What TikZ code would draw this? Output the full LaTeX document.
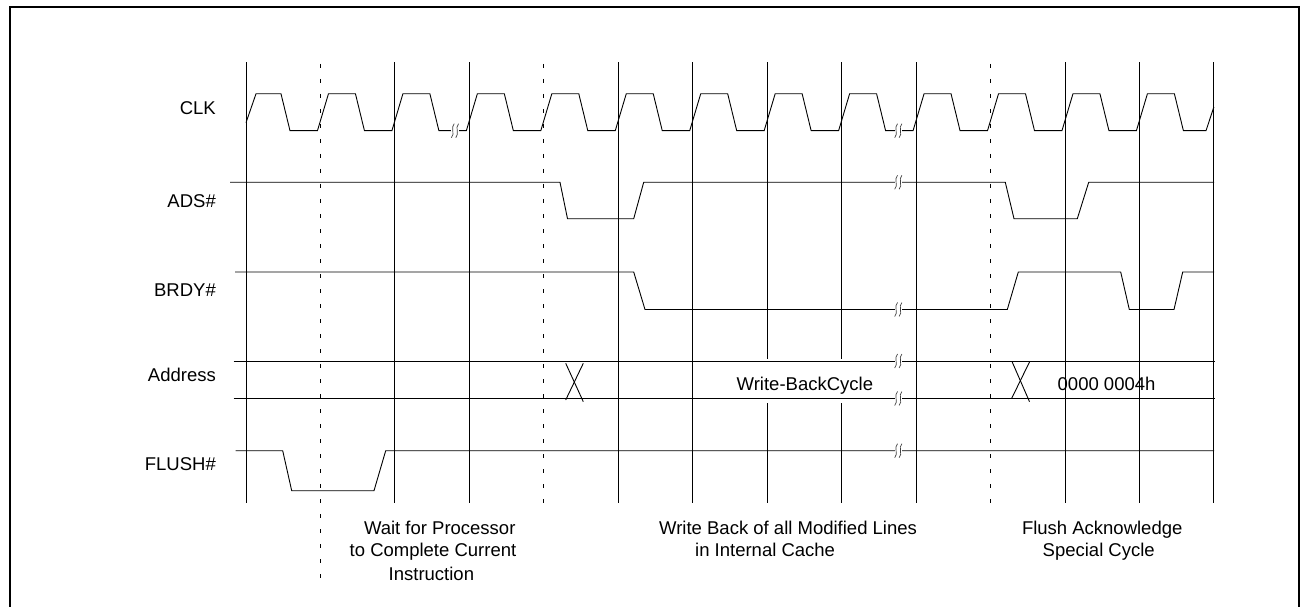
\documentclass[tikz,border=0pt]{standalone}
\usepackage{fontspec}
\setmainfont{Liberation Sans}
\newcommand{\waveBreak}[2]{%
  \draw[white, line width=3pt] ({#1-3.6},#2) -- ({#1+3.6},#2);
  \draw[brk] ({#1-2.2+1.4},{#2-7}) .. controls ({#1-2.2-2.6},{#2-3}) and ({#1-2.2+2.6},{#2+3}) .. ({#1-2.2-1.4},{#2+7});
  \draw[brk] ({#1+2.2+1.4},{#2-7}) .. controls ({#1+2.2-2.6},{#2-3}) and ({#1+2.2+2.6},{#2+3}) .. ({#1+2.2-1.4},{#2+7});
}
\begin{document}
\begin{tikzpicture}[x=1pt,y=-1pt,
  sig/.style={line width=0.9pt, line join=miter},
  gridline/.style={line width=0.9pt},
  dgridline/.style={line width=0.9pt, dash pattern=on 4pt off 11pt},
  brk/.style={line width=0.7pt, black!75},
  lbl/.style={font=\fontsize{18.5}{22}\selectfont, inner sep=0pt},
  frameline/.style={line width=2.3pt}]
\useasboundingbox (0,0) rectangle (1302,607);
% frame (open at bottom)
\draw[frameline] (10.2,608) -- (10.2,7.3) -- (1298.8,7.3) -- (1298.8,608);

% clock grid lines
\foreach \k in {0,2,3,5,6,9,11,12,13}
  \draw[gridline] ({246+74.45*\k},62.5) -- ({246+74.45*\k},503);
\foreach \k in {7,8} {
  \draw[gridline] ({246+74.45*\k},62.5) -- ({246+74.45*\k},359);
  \draw[gridline] ({246+74.45*\k},403) -- ({246+74.45*\k},503);
}
\draw[dgridline] ({246+74.45},64) -- ({246+74.45},583);
\foreach \k in {4,10}
  \draw[dgridline] ({246+74.45*\k},64) -- ({246+74.45*\k},503);

% CLK
\draw[sig] (246,122.7) -- (256,93.8) -- (281,93.8) -- (290,130.7)
  \foreach \k in {1,...,12} {
    -- ({246+74.45*\k-3},130.7) -- ({246+74.45*\k+8},93.8)
    -- ({246+74.45*\k+35},93.8) -- ({246+74.45*\k+44},130.7) }
  -- (1206,130.7) -- (1213.85,107);

% ADS#
\draw[sig] (230,182.3) -- (560,182.3) -- (567.5,218.7) -- (633.7,218.7) -- (643.7,182.3)
  -- (1005.3,182.3) -- (1014,218.7) -- (1077.3,218.7) -- (1088.7,182.3) -- (1214,182.3);

% BRDY#
\draw[sig] (235,272) -- (633.7,272) -- (645,309.5) -- (1007.3,309.5) -- (1018.3,272)
  -- (1120.7,272) -- (1129.3,309.5) -- (1174,309.5) -- (1182.7,272) -- (1214,272);

% Address bus
\draw[sig] (233.5,361) -- (1215,361);
\draw[sig] (233.5,398.5) -- (1215,398.5);
\draw[sig] (565.7,363.3) -- (583.3,401.7);
\draw[sig] (583.3,363.3) -- (565.7,400);
\draw[sig] (1012.2,362) -- (1029.5,401.7);
\draw[sig] (1029.5,362) -- (1011.7,398.3);

% FLUSH#
\draw[sig] (235.7,450.7) -- (282.7,450.7) -- (291.7,490.7) -- (374,490.7) -- (385.7,450.7) -- (1214,450.7);

% break marks
\waveBreak{455}{130.7}
\waveBreak{898.3}{130.7}
\waveBreak{898.3}{182.3}
\waveBreak{898.3}{309.5}
\waveBreak{898.3}{361}
\waveBreak{898.3}{398.5}
\waveBreak{898.3}{450.7}

% signal labels
\node[lbl, anchor=base east] (lclk) at (216,115) {CLK};
\node[lbl, anchor=base east] (lads) at (216,207.3) {ADS\#};
\node[lbl, anchor=base east] (lbrdy) at (216,296.7) {BRDY\#};
\node[lbl, anchor=base east] (laddr) at (216,381.7) {Address};
\node[lbl, anchor=base east] (lflush) at (216,470.7) {FLUSH\#};

% bus values
\node[lbl, anchor=base west] (wbc) at (736.5,390.7) {Write-BackCycle};
\node[lbl, anchor=base west] (adr4) at (1057.5,390.7) {0000 0004h};

% phase descriptions
\node[lbl, anchor=base west] (t1a) at (363.8,534.3) {Wait for Processor};
\node[lbl, anchor=base west] (t1b) at (349.5,556.7) {to Complete Current};
\node[lbl, anchor=base west] (t1c) at (388.5,580) {Instruction};
\node[lbl, anchor=base west] (t2a) at (659,534.3) {Write Back of all Modified Lines};
\node[lbl, anchor=base west] (t2b) at (695,556.7) {in Internal Cache};
\node[lbl, anchor=base west] (t3a) at (1021.8,534.3) {Flush Acknowledge};
\node[lbl, anchor=base west] (t3b) at (1042.5,556.7) {Special Cycle};
\end{tikzpicture}
\end{document}
